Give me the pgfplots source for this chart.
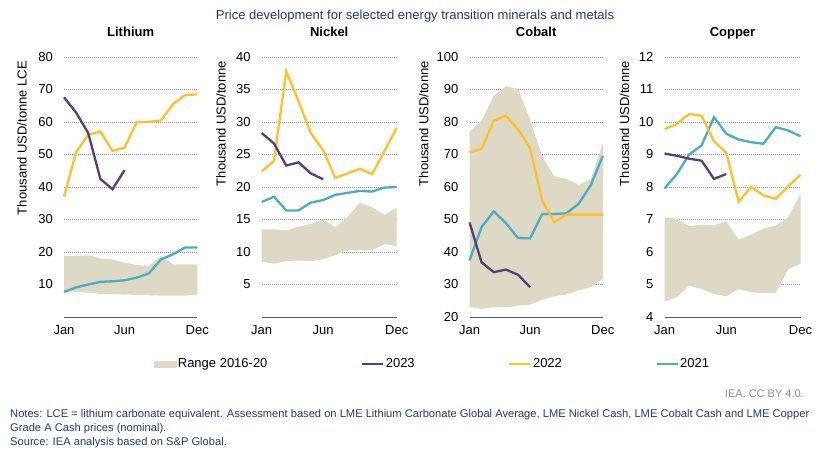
\documentclass[border=0pt]{standalone}
\usepackage{fontspec}
\setmainfont{Liberation Sans}
\usepackage{pgfplots}
\pgfplotsset{compat=1.18}
\usepgfplotslibrary{fillbetween}

\definecolor{rangetan}{RGB}{221,217,196}
\definecolor{c2023}{RGB}{88,62,120}
\definecolor{c2022}{RGB}{255,192,42}
\definecolor{c2021}{RGB}{75,172,198}
\definecolor{navy}{RGB}{32,58,112}
\definecolor{gridgray}{RGB}{150,150,150}
\definecolor{axisgray}{RGB}{90,90,90}

\newcommand{\fs}[1]{\fontsize{#1}{#1}\selectfont}

\pgfplotsset{
  panel/.style={
    scale only axis, height=260pt,
    xmin=1, xmax=12, xtick={1,6,12}, xticklabels={Jan,Jun,Dec},
    axis x line*=bottom, axis y line*=left,
    y axis line style={draw=none},
    x axis line style={draw=axisgray, line width=1pt},
    major tick length=0pt,
    ymajorgrids,
    grid style={draw=gridgray, line width=0.8pt, dash pattern=on 1pt off 1pt},
    tick label style={font=\fs{13}},
    yticklabel style={anchor=east, inner sep=0pt, xshift=-11pt},
    xticklabel style={anchor=north, inner sep=0pt, yshift=-8pt},
    ylabel style={font=\fs{13}, inner sep=0pt, anchor=base east},
    title style={font=\bfseries\fs{13}, at={(0.5,1)}, anchor=base, yshift=15pt, inner sep=0pt},
    /pgf/number format/assume math mode=true,
    clip=false,
  },
  rng/.style={draw=none},
  y23/.style={c2023, line width=2.3pt},
  y22/.style={c2022, line width=2.3pt},
  y21/.style={c2021, line width=2.3pt},
}

% month  lo  hi  for the 2016-20 range, and one table per year
\pgfplotstableread{
m lo hi
1 8.0 18.8
2 7.7 18.8
3 7.5 19.0
4 7.1 18.0
5 7.0 17.7
6 6.9 16.7
7 6.8 16.0
8 6.7 15.8
9 6.6 18.8
10 6.6 16.2
11 6.6 16.2
12 6.9 16.2
}\lirange
\pgfplotstableread{
m v
1 67.6
2 62.9
3 56.6
4 42.5
5 39.3
6 45.2
}\liA
\pgfplotstableread{
m v
1 37.0
2 50.7
3 56.1
4 57.1
5 51.1
6 52.1
7 60.0
8 60.0
9 60.5
10 65.5
11 68.3
12 68.5
}\liB
\pgfplotstableread{
m v
1 7.7
2 9.1
3 10.0
4 10.8
5 11.0
6 11.3
7 12.1
8 13.4
9 17.7
10 19.3
11 21.4
12 21.4
}\liC

\pgfplotstableread{
m lo hi
1 8.5 13.5
2 8.2 13.5
3 8.6 13.3
4 8.7 13.9
5 8.6 14.3
6 8.9 15.0
7 9.5 13.8
8 10.3 15.4
9 10.3 17.6
10 10.3 16.9
11 11.2 15.7
12 10.9 16.8
}\nirange
\pgfplotstableread{
m v
1 28.3
2 26.7
3 23.3
4 23.8
5 22.1
6 21.2
}\niA
\pgfplotstableread{
m v
1 22.4
2 24.0
3 37.8
4 33.2
5 28.3
6 25.7
7 21.4
8 22.1
9 22.8
10 22.0
11 25.5
12 29.1
}\niB
\pgfplotstableread{
m v
1 17.7
2 18.5
3 16.4
4 16.4
5 17.6
6 18.0
7 18.8
8 19.1
9 19.4
10 19.3
11 19.9
12 20.0
}\niC

\pgfplotstableread{
m lo hi
1 23.1 77.1
2 22.5 80.4
3 23.0 88.1
4 23.0 91.0
5 23.5 90.2
6 23.8 80.7
7 25.3 69.4
8 26.4 63.3
9 26.9 62.5
10 28.2 60.7
11 29.2 62.3
12 31.8 73.5
}\corange
\pgfplotstableread{
m v
1 49.1
2 36.8
3 33.8
4 34.6
5 33.0
6 29.2
}\coA
\pgfplotstableread{
m v
1 70.7
2 71.7
3 80.4
4 81.9
5 77.8
6 72.0
7 55.8
8 49.2
9 51.5
10 51.5
11 51.5
12 51.5
}\coB
\pgfplotstableread{
m v
1 37.4
2 47.7
3 52.5
4 48.9
5 44.3
6 44.2
7 51.7
8 51.7
9 51.9
10 54.8
11 60.5
12 69.6
}\coC

\pgfplotstableread{
m lo hi
1 4.48 7.07
2 4.61 7.02
3 4.96 6.79
4 4.86 6.84
5 4.71 6.82
6 4.64 6.94
7 4.86 6.38
8 4.76 6.53
9 4.74 6.72
10 4.74 6.81
11 5.46 7.07
12 5.64 7.78
}\curange
\pgfplotstableread{
m v
1 9.03
2 8.96
3 8.87
4 8.81
5 8.25
6 8.40
}\cuA
\pgfplotstableread{
m v
1 9.78
2 9.94
3 10.25
4 10.19
5 9.41
6 9.05
7 7.54
8 8.00
9 7.74
10 7.64
11 8.02
12 8.38
}\cuB
\pgfplotstableread{
m v
1 7.95
2 8.40
3 9.00
4 9.28
5 10.15
6 9.64
7 9.46
8 9.38
9 9.33
10 9.84
11 9.74
12 9.56
}\cuC

\begin{document}
\begin{tikzpicture}
% page frame; everything below stays inside it
\path (0pt,0pt) rectangle (828pt,-450pt);

\node[anchor=base, text=navy, font=\fs{13}, inner sep=0pt] at (415pt,-19.5pt)
  {Price development for selected energy transition minerals and metals};

% Lithium (carries the shared legend)
\begin{axis}[panel, at={(64pt,-317pt)}, anchor=south west, width=133.3pt,
  ymin=0, ymax=80, ytick={10,20,...,80},
  title={Lithium},
  ylabel={Thousand USD/tonne LCE},
  ylabel style={at={(axis description cs:-0.281,0.985)}},
  legend columns=4,
  legend cell align=left,
  legend style={at={(axis description cs:0.675,-0.181)}, anchor=west,
    draw=none, fill=none, inner sep=0pt, outer sep=0pt,
    font=\fs{13}, nodes={inner xsep=1.5pt, inner ysep=0pt},
    /tikz/every even column/.append style={column sep=92pt}},
]
\addlegendimage{legend image code/.code={\fill[rangetan] (0pt,-2.7pt) rectangle (22pt,2.7pt);}}
\addlegendentry{Range 2016-20}
\addlegendimage{legend image code/.code={\draw[c2023, line width=2.3pt] (0pt,0pt) -- (21pt,0pt);}}
\addlegendentry{2023}
\addlegendimage{legend image code/.code={\draw[c2022, line width=2.3pt] (0pt,0pt) -- (21pt,0pt);}}
\addlegendentry{2022}
\addlegendimage{legend image code/.code={\draw[c2021, line width=2.3pt] (0pt,0pt) -- (21pt,0pt);}}
\addlegendentry{2021}
\addplot[rng, name path=lilo, forget plot] table[x=m, y=lo] {\lirange};
\addplot[rng, name path=lihi, forget plot] table[x=m, y=hi] {\lirange};
\addplot[rangetan, forget plot] fill between[of=lilo and lihi];
\addplot[y21, forget plot] table[x=m, y=v] {\liC};
\addplot[y22, forget plot] table[x=m, y=v] {\liB};
\addplot[y23, forget plot] table[x=m, y=v] {\liA};
\end{axis}

% Nickel
\begin{axis}[panel, at={(261.7pt,-317pt)}, anchor=south west, width=135pt,
  ymin=0, ymax=40, ytick={5,10,...,40},
  title={Nickel},
  ylabel={Thousand USD/tonne},
  ylabel style={at={(axis description cs:-0.267,0.985)}},
]
\addplot[rng, name path=nilo] table[x=m, y=lo] {\nirange};
\addplot[rng, name path=nihi] table[x=m, y=hi] {\nirange};
\addplot[rangetan] fill between[of=nilo and nihi];
\addplot[y21] table[x=m, y=v] {\niC};
\addplot[y22] table[x=m, y=v] {\niB};
\addplot[y23] table[x=m, y=v] {\niA};
\end{axis}

% Cobalt
\begin{axis}[panel, at={(469.5pt,-317pt)}, anchor=south west, width=133.3pt,
  ymin=20, ymax=100, ytick={20,30,...,100},
  title={Cobalt},
  ylabel={Thousand USD/tonne},
  ylabel style={at={(axis description cs:-0.309,0.985)}},
]
\addplot[rng, name path=colo] table[x=m, y=lo] {\corange};
\addplot[rng, name path=cohi] table[x=m, y=hi] {\corange};
\addplot[rangetan] fill between[of=colo and cohi];
\addplot[y21] table[x=m, y=v] {\coC};
\addplot[y22] table[x=m, y=v] {\coB};
\addplot[y23] table[x=m, y=v] {\coA};
\end{axis}

% Copper
\begin{axis}[panel, at={(664.5pt,-317pt)}, anchor=south west, width=136pt,
  ymin=4, ymax=12, ytick={4,5,...,12},
  title={Copper},
  ylabel={Thousand USD/tonne},
  ylabel style={at={(axis description cs:-0.261,0.985)}},
]
\addplot[rng, name path=culo] table[x=m, y=lo] {\curange};
\addplot[rng, name path=cuhi] table[x=m, y=hi] {\curange};
\addplot[rangetan] fill between[of=culo and cuhi];
\addplot[y21] table[x=m, y=v] {\cuC};
\addplot[y22] table[x=m, y=v] {\cuB};
\addplot[y23] table[x=m, y=v] {\cuA};
\end{axis}

\node[anchor=base east, text=black!45, font=\fs{11}, inner sep=0pt] at (804pt,-397pt)
  {IEA. CC BY 4.0.};
\node[anchor=base west, text=navy, font=\fs{11.15}, inner sep=0pt] at (10pt,-417pt)
  {Notes: LCE = lithium carbonate equivalent. Assessment based on LME Lithium Carbonate Global Average, LME Nickel Cash, LME Cobalt Cash and LME Copper};
\node[anchor=base west, text=navy, font=\fs{11.15}, inner sep=0pt] at (10pt,-431pt)
  {Grade A Cash prices (nominal).};
\node[anchor=base west, text=navy, font=\fs{11.15}, inner sep=0pt] at (10pt,-445pt)
  {Source: IEA analysis based on S\&P Global.};
\end{tikzpicture}
\end{document}
